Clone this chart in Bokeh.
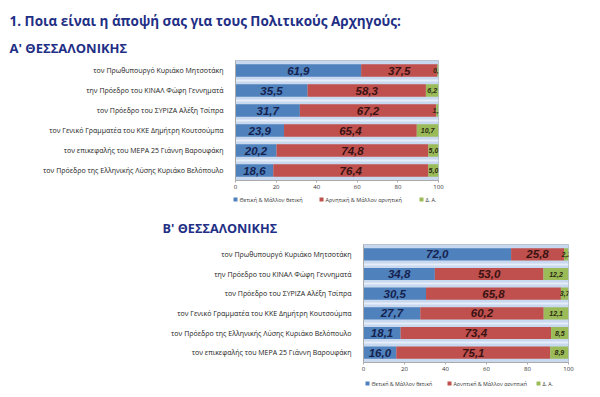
from bokeh.plotting import figure
from bokeh.layouts import column
from bokeh.models import Range1d, FixedTicker, ColumnDataSource
from bokeh.core.properties import value
from bokeh.embed import file_html
from bokeh.resources import INLINE

# ---------------- data ----------------
title_main = "1. Ποια είναι η άποψή σας για τους Πολιτικούς Αρχηγούς:"
title_a = "Α' ΘΕΣΣΑΛΟΝΙΚΗΣ"
title_b = "Β' ΘΕΣΣΑΛΟΝΙΚΗΣ"
series_names = ["Θετική & Μάλλον θετική", "Αρνητική & Μάλλον αρνητική", "Δ. Α."]

cats_a = [
    "τον Πρωθυπουργό Κυριάκο Μητσοτάκη",
    "την Πρόεδρο του ΚΙΝΑΛ Φώφη Γεννηματά",
    "τον Πρόεδρο του ΣΥΡΙΖΑ Αλέξη Τσίπρα",
    "τον Γενικό Γραμματέα του ΚΚΕ Δημήτρη Κουτσούμπα",
    "τον επικεφαλής του ΜΕΡΑ 25 Γιάννη Βαρουφάκη",
    "τον Πρόεδρο της Ελληνικής Λύσης Κυριάκο Βελόπουλο",
]
pos_a = [61.9, 35.5, 31.7, 23.9, 20.2, 18.6]
neg_a = [37.5, 58.3, 67.2, 65.4, 74.8, 76.4]
na_a = [0.6, 6.2, 1.1, 10.7, 5.0, 5.0]

cats_b = [
    "τον Πρωθυπουργό Κυριάκο Μητσοτάκη",
    "την Πρόεδρο του ΚΙΝΑΛ Φώφη Γεννηματά",
    "τον Πρόεδρο του ΣΥΡΙΖΑ Αλέξη Τσίπρα",
    "τον Γενικό Γραμματέα του ΚΚΕ Δημήτρη Κουτσούμπα",
    "τον Πρόεδρο της Ελληνικής Λύσης Κυριάκο Βελόπουλο",
    "τον επικεφαλής του ΜΕΡΑ 25 Γιάννη Βαρουφάκη",
]
pos_b = [72.0, 34.8, 30.5, 27.7, 18.1, 16.0]
neg_b = [25.8, 53.0, 65.8, 60.2, 73.4, 75.1]
na_b = [2.2, 12.2, 3.7, 12.1, 8.5, 8.9]

x_ticks = [0, 20, 40, 60, 80, 100]

# ---------------- style ----------------
W = 584
COLORS = ["#4f81bd", "#c0504d", "#9bbb59"]
NAVY = "#1f2f86"
LABEL_FONT = "Open Sans"
VAL_FONT = "Liberation Sans"


def fmt(v):
    return f"{v:.1f}".replace(".", ",")


def canvas(h):
    p = figure(frame_width=W, frame_height=h, x_range=Range1d(0, W), y_range=Range1d(h, 0),
               x_axis_type=None, y_axis_type=None, toolbar_location=None,
               output_backend="svg", min_border=0, outline_line_color=None,
               frame_align=False)
    p.grid.visible = False
    return p


def header(h, texts):
    p = canvas(h)
    for (x, y, t, size) in texts:
        p.text(x=[x], y=[y], text=[t], text_font=value(LABEL_FONT),
               text_font_style="bold", text_font_size=size, text_color=NAVY,
               text_baseline="middle", text_align="left")
    return p


def legend_strip(h, xs, y, size):
    p = canvas(h)
    p.scatter(x=xs, y=[y] * len(xs), marker="square", size=4,
              color=COLORS, line_color=None)
    p.text(x=[x + 4 for x in xs], y=[y] * len(xs), text=series_names,
           text_font=value(LABEL_FONT), text_font_size=size,
           text_color="#333333", text_baseline="middle", text_align="left")
    return p


def chart(cats, pos, neg, na, left, frame_w, top, frame_h, bottom):
    n = len(cats)
    ys = list(range(n))
    p = figure(frame_width=frame_w, frame_height=frame_h, x_range=Range1d(0, 100),
               y_range=Range1d(n - 0.5, -0.5), toolbar_location=None,
               output_backend="svg", min_border_left=left,
               min_border_right=W - left - frame_w, min_border_top=top,
               min_border_bottom=bottom,
               background_fill_color="#c8d8ee", outline_line_color="#b8c4d4",
               frame_align=False)
    src = ColumnDataSource(dict(y=ys, pos=pos, neg=neg, na=na))
    p.hbar_stack(["pos", "neg", "na"], y="y", height=0.62,
                 color=COLORS, line_color=None, source=src)
    # labels
    lab_pos = [v / 2 for v in pos]
    lab_neg = [a + b / 2 for a, b in zip(pos, neg)]
    lab_na = [a + b + c / 2 for a, b, c in zip(pos, neg, na)]
    p.text(x=lab_pos, y=ys, text=[fmt(v) for v in pos], text_font=value(VAL_FONT),
           text_font_style="bold italic", text_font_size="11.5px", text_color="#15224e",
           text_align="center", text_baseline="middle")
    p.text(x=lab_neg, y=ys, text=[fmt(v) for v in neg], text_font=value(VAL_FONT),
           text_font_style="bold italic", text_font_size="11.5px", text_color="#3a1212",
           text_align="center", text_baseline="middle")
    p.text(x=lab_na, y=ys, text=[fmt(v) for v in na], text_font=value(VAL_FONT),
           text_font_style="bold italic", text_font_size="7px", text_color="#2a2a10",
           text_align="center", text_baseline="middle")

    p.xgrid.visible = False
    p.ygrid.ticker = FixedTicker(ticks=[i + 0.5 for i in range(n - 1)])
    p.ygrid.grid_line_color = "#e6eef9"
    p.ygrid.grid_line_width = 2

    p.xaxis.ticker = FixedTicker(ticks=x_ticks)
    p.xaxis.major_label_text_font_size = "6px"
    p.xaxis.major_label_text_color = "#333333"
    p.xaxis.major_label_text_font = LABEL_FONT
    p.xaxis.axis_line_color = "#aaaaaa"
    p.xaxis.major_tick_line_color = "#aaaaaa"
    p.xaxis.major_tick_in = 0
    p.xaxis.major_tick_out = 2
    p.xaxis.minor_tick_line_color = None
    p.xaxis.major_label_standoff = 2

    p.yaxis.ticker = FixedTicker(ticks=ys)
    p.yaxis.major_label_overrides = {i: c for i, c in enumerate(cats)}
    p.yaxis.major_label_text_font_size = "7px"
    p.yaxis.major_label_text_font = LABEL_FONT
    p.yaxis.major_label_text_color = "#222222"
    p.yaxis.axis_line_color = "#aaaaaa"
    p.yaxis.major_tick_line_color = None
    p.yaxis.major_tick_out = 0
    p.yaxis.major_tick_in = 0
    p.yaxis.minor_tick_line_color = None
    p.yaxis.major_label_standoff = 12
    return p


head1 = header(58, [(9, 20, title_main, "13.5px"), (9, 47, title_a, "13px")])
fig1 = chart(cats_a, pos_a, neg_a, na_a, left=235, frame_w=203,
             top=2, frame_h=120, bottom=14)
leg1 = legend_strip(10, [235, 321, 421], 3, "5.5px")
head2 = header(39, [(162, 23, title_b, "12.7px")])
fig2 = chart(cats_b, pos_b, neg_b, na_b, left=363, frame_w=205,
             top=1, frame_h=118, bottom=14)
leg2 = legend_strip(10, [367, 449, 538], 5, "5.3px")

layout = column(head1, fig1, leg1, head2, fig2, leg2, spacing=0)
open("out.html", "w").write(file_html(layout, INLINE))
